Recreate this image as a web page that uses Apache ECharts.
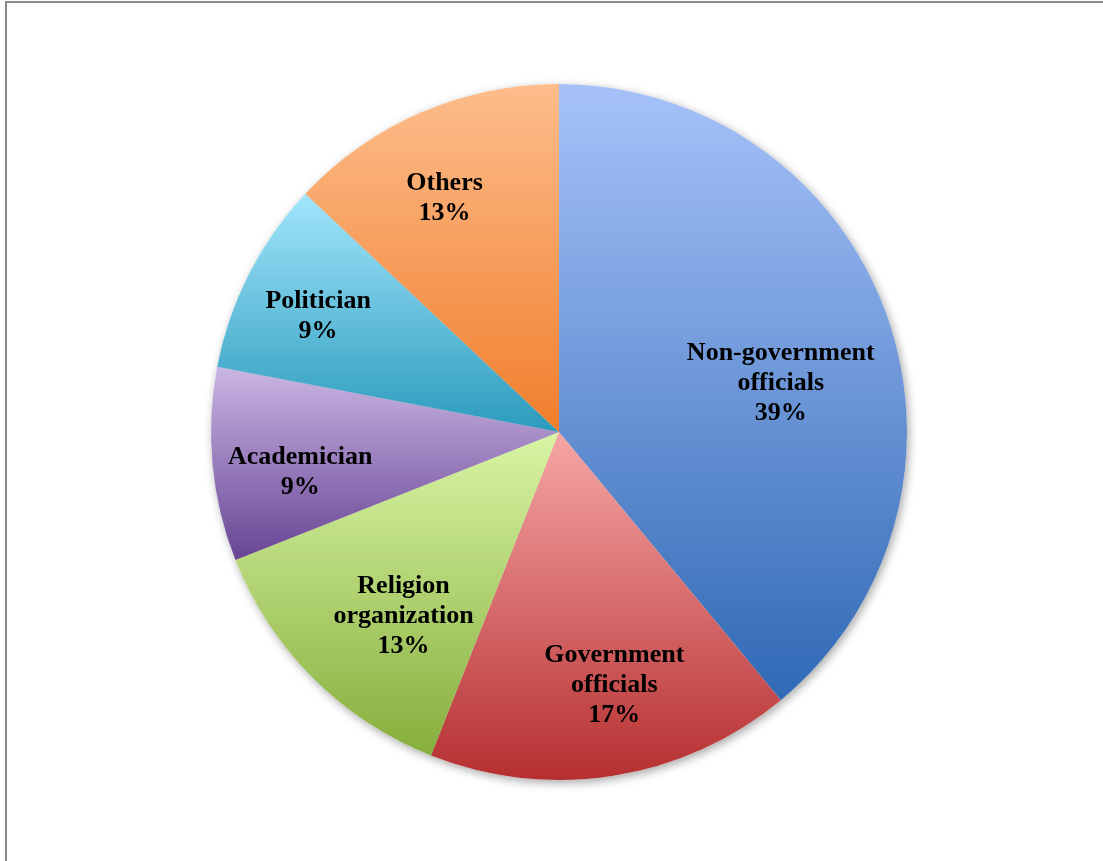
<!DOCTYPE html>
<html>
<head>
<meta charset="utf-8">
<script src="https://cdn.jsdelivr.net/npm/echarts@6/dist/echarts.min.js"></script>
<style>
  html, body { margin: 0; padding: 0; background: #fff; }
  #chart { position: absolute; left: 0; top: 0; width: 1103px; height: 861px; }
  #frame { position: absolute; left: 5px; top: 1px; width: 1098px; height: 860px;
           border-top: 2px solid #8a8a8a; border-left: 2px solid #8a8a8a; box-sizing: border-box; pointer-events: none; }
</style>
</head>
<body>
<div id="chart"></div>
<div id="frame"></div>
<script>
// ---- data ----
const categories = ['Non-government\nofficials', 'Government\nofficials', 'Religion\norganization', 'Academician', 'Politician', 'Others'];
const shares = [39, 17, 13, 9, 9, 13];

// ---- styles ----
const gradTop = ['#a7c2f9', '#f6a6a6', '#d9f5a5', '#cab6e4', '#a2e5fc', '#fdbd8c'];
const gradBottom = ['#3069b5', '#b62f30', '#86ae3c', '#674494', '#2b9bbd', '#f17e2c'];
const labelNudge = [[-21, 39], [15, -2], [27, 2], [-2, 16], [-11, 1], [-12, 3]];

const chart = echarts.init(document.getElementById('chart'), null, { renderer: 'canvas' });

const slices = categories.map((c, i) => ({
  name: c,
  value: shares[i],
  itemStyle: {
    color: new echarts.graphic.LinearGradient(0, 0, 0, 1, [
      { offset: 0, color: gradTop[i] },
      { offset: 1, color: gradBottom[i] }
    ])
  }
}));

const plain = categories.map((c, i) => ({ name: c, value: shares[i] }));

const center = [559, 432];
const R = 348;

chart.setOption({
  backgroundColor: 'transparent',
  animation: false,
  series: [
    {
      type: 'pie', z: 1, silent: true,
      center: center, radius: R, startAngle: 90, clockwise: true,
      data: plain,
      label: { show: false }, labelLine: { show: false },
      itemStyle: { color: '#ffffff', shadowBlur: 10, shadowColor: 'rgba(0,0,0,0.35)', shadowOffsetX: 2, shadowOffsetY: 3 },
      emphasis: { disabled: true }
    },
    {
      type: 'pie', z: 2, silent: true,
      center: center, radius: R, startAngle: 90, clockwise: true,
      data: slices,
      label: { show: false }, labelLine: { show: false },
      itemStyle: { borderWidth: 0 },
      emphasis: { disabled: true }
    },
    {
      type: 'pie', z: 3, silent: true,
      center: center, radius: [162, R], startAngle: 90, clockwise: true,
      data: plain,
      itemStyle: { color: 'rgba(0,0,0,0)' },
      labelLine: { show: false },
      label: {
        show: true, position: 'inside',
        formatter: '{b}\n{d}%',
        fontFamily: '"Liberation Serif", "Times New Roman", serif',
        fontWeight: 'bold', fontSize: 26, lineHeight: 30, color: '#000',
        textBorderWidth: 0
      },
      labelLayout: function (p) {
        const n = labelNudge[p.dataIndex];
        return { dx: n[0], dy: n[1] };
      },
      emphasis: { disabled: true }
    }
  ]
});
</script>
</body>
</html>
